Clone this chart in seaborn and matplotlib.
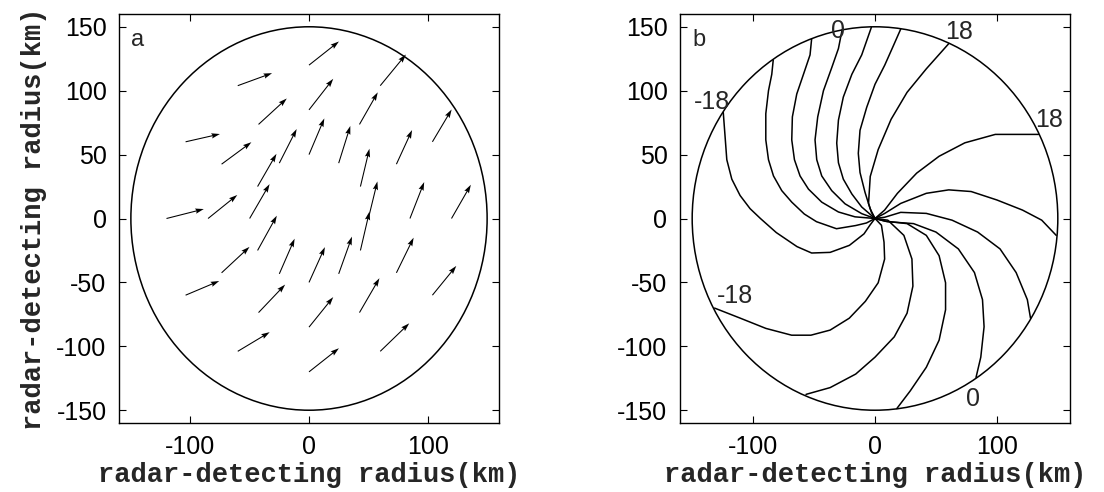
import matplotlib
matplotlib.use("Agg")
import matplotlib.pyplot as plt
from matplotlib.patches import Circle
import seaborn as sns
import numpy as np
import pandas as pd

# ---- panel a: wind vectors on three range rings, every 30 deg of azimuth ----
ring_radius = [50, 85, 120]
azimuth_deg = [0, 30, 60, 90, 120, 150, 180, 210, 240, 270, 300, 330]
u_r50 = [7.6, 7.6, 9.8, 12.9, 14.6, 15.9, 16.8, 16.2, 12.9, 13.4, 11.2, 7.6]
v_r50 = [29.0, 29.6, 29.1, 28.3, 26.7, 25.6, 26.9, 27.2, 27.5, 27.6, 29.1, 30.4]
u_r85 = [12.0, 13.2, 15.4, 20.4, 23.8, 25.1, 24.6, 23.5, 22.4, 20.4, 16.8, 14.5]
v_r85 = [28.5, 26.7, 25.1, 24.3, 20.3, 17.2, 18.4, 20.3, 21.9, 23.5, 26.9, 27.5]
u_r120 = [16.3, 16.2, 21.6, 25.2, 28.9, 28.9, 31.4, 28.3, 26.9, 25.2, 24.4, 20.1]
v_r120 = [26.4, 25.3, 24.4, 18.5, 9.8, 6.1, 7.4, 11.1, 15.0, 18.5, 21.9, 22.9]

# ---- panel b: radial velocity isolines (m/s), traced from the centre out ----
line_m18_a = [(0, 0), (-4, -5), (-9, -12), (-21, -21), (-36.8, -26.5), (-52, -27),
              (-64, -22), (-81, -11), (-94, 0), (-102.5, 7.7), (-110.7, 18),
              (-117.5, 30.8), (-121.6, 46), (-123, 64), (-124.5, 83)]
line_m12_a = [(0, 0), (-7, -3.5), (-15.8, -5.5), (-31.6, -8), (-48, -2.5), (-58, 3.5),
              (-68.3, 12.8), (-76.5, 21.8), (-83.3, 33.3), (-87.4, 46), (-89.6, 61.5),
              (-89.6, 82), (-87.4, 100), (-84.7, 112.8), (-83.5, 124)]
line_m6_a = [(0, 0), (-16.4, 1.3), (-30, 5.1), (-43.7, 12.8), (-54.6, 23), (-61.5, 33.3),
             (-66.1, 46), (-68.3, 61.5), (-67.8, 79.5), (-64.2, 97.4), (-58.7, 112.8),
             (-53.3, 128), (-52, 140.5)]
line_0_a = [(0, 0), (-10.9, 3.8), (-24.6, 11.5), (-35.5, 21.8), (-43.7, 33.3),
            (-47.8, 46), (-49.2, 61.5), (-47, 79.5), (-42.3, 100), (-35.5, 118),
            (-30, 133), (-27, 147.5)]
line_6_a = [(0, 0), (-10.9, 9), (-19, 19.2), (-26, 30.8), (-30, 43.6), (-31.4, 59),
            (-30, 77), (-26, 95), (-19, 112.8), (-10.9, 128), (-3, 149.5)]
line_12_a = [(0, 0), (-4, 7.7), (-8.2, 20.5), (-12.3, 36), (-13.7, 51), (-12.3, 69),
             (-6.8, 87), (0, 105), (8, 120), (15, 135), (21.1, 148.2)]
line_18_a = [(0, 0), (-3, 5), (-5.3, 11.8), (-3.9, 32.9), (2.6, 53.9), (13.2, 77.6),
             (26.3, 98.7), (42.1, 117.1), (60.5, 136.8)]
line_18_b = [(0, 0), (7.9, 6.6), (18.4, 19.7), (34.2, 35.5), (52.6, 48.7),
             (73.7, 59.2), (98.7, 65.8), (134.2, 65.8)]
line_12_b = [(0, 0), (8, 4), (21.1, 11.8), (42.1, 19.7), (60.5, 22.4), (78.9, 21.1),
             (100, 14.5), (121, 6.6), (136.8, -1.3), (148.7, -13.2)]
line_6_b = [(0, 0), (8, 1), (21.1, 4.8), (42.1, 4), (63.2, -1.3), (84.2, -10.6),
            (102.6, -23.8), (115.8, -42.3), (125, -63.5), (127.6, -78)]
line_0_b = [(0, 0), (10, -2.5), (31.6, -4), (50, -10.6), (68.4, -23.8), (81.6, -42.3),
            (88.2, -63.5), (89.5, -84.7), (86.8, -108.5), (82.9, -124.3)]
line_m6_b = [(0, 0), (8, -2), (26.3, -4), (42.1, -13.2), (52.6, -29.1), (57.9, -50.3),
             (57.9, -71.4), (52.6, -95.2), (42.1, -116.4), (28.9, -134.9), (17.9, -148.7)]
line_m12_b = [(0, 0), (10.5, -1.3), (23.7, -13.2), (30.3, -31.7), (31.1, -52.9),
              (26.3, -74.1), (15.8, -92.6), (0, -108.5), (-15.8, -121.7),
              (-36.8, -132.3), (-56.6, -137.6)]
line_m18_b = [(0, 0), (5.3, -5.3), (7.4, -18.5), (7.9, -31.7), (2.6, -50.3),
              (-7.9, -64.8), (-21.1, -78), (-36.8, -87.3), (-52.6, -91.3),
              (-68.4, -91.3), (-89.5, -86), (-110.5, -78), (-131.6, -70.1)]

label_text = ["0", "18", "18", "-18", "-18", "0"]
label_x = [-30, 69, 143, -134, -115, 80.5]
label_y = [147, 146, 77, 91, -61, -141]

# build tables
rows = []
for r, us, vs in zip(ring_radius, [u_r50, u_r85, u_r120], [v_r50, v_r85, v_r120]):
    for az, u, v in zip(azimuth_deg, us, vs):
        rows.append({"x": r * np.cos(np.radians(az)), "y": r * np.sin(np.radians(az)),
                     "u": u, "v": v})
arrows = pd.DataFrame(rows)

lines = {"m18a": line_m18_a, "m12a": line_m12_a, "m6a": line_m6_a, "0a": line_0_a,
         "6a": line_6_a, "12a": line_12_a, "18a": line_18_a, "18b": line_18_b,
         "12b": line_12_b, "6b": line_6_b, "0b": line_0_b, "m6b": line_m6_b,
         "m12b": line_m12_b, "m18b": line_m18_b}
iso = pd.DataFrame([{"curve": k, "x": p[0], "y": p[1]} for k, pts in lines.items() for p in pts])

sns.set_style("ticks")
plt.rcParams["font.family"] = ["Liberation Sans", "DejaVu Sans"]
plt.rcParams["axes.unicode_minus"] = False
plt.rcParams["xtick.direction"] = "in"
plt.rcParams["ytick.direction"] = "in"
plt.rcParams["xtick.top"] = True
plt.rcParams["ytick.right"] = True
plt.rcParams["axes.edgecolor"] = "black"

fig = plt.figure(figsize=(11.04, 4.92), dpi=100)
ax_a = fig.add_axes([119 / 1104, 69 / 492, 380 / 1104, 409 / 492])
ax_b = fig.add_axes([680 / 1104, 69 / 492, 390 / 1104, 409 / 492])

ax_a.quiver(arrows["x"], arrows["y"], arrows["u"], arrows["v"], angles="xy",
            scale_units="xy", scale=1, color="k", width=0.0028, headwidth=5,
            headlength=8, headaxislength=7, zorder=3)

sns.lineplot(data=iso, x="x", y="y", units="curve", estimator=None, sort=False,
             color="k", linewidth=1.1, legend=False, ax=ax_b)
for s, x, y in zip(label_text, label_x, label_y):
    ax_b.text(x, y, s, ha="center", va="center", fontsize=18)

label_font = dict(family="Liberation Mono", weight="bold", size=19.5)
for ax, letter in [(ax_a, "a"), (ax_b, "b")]:
    ax.add_patch(Circle((0, 0), 150, fill=False, color="k", lw=1.1))
    ax.set_xlim(-160, 160)
    ax.set_ylim(-160, 160)
    ax.set_xticks([-100, 0, 100])
    ax.set_yticks([-150, -100, -50, 0, 50, 100, 150])
    ax.tick_params(labelsize=18, length=5, width=0.8, pad=9, colors="black")
    for sp in ax.spines.values():
        sp.set_linewidth(1.0)
    ax.text(-144, 140, letter, ha="center", va="center", fontsize=17)
    ax.set_xlabel("radar-detecting radius(km)", fontdict=label_font, labelpad=2)
    ax.set_ylabel("")
ax_a.set_ylabel("radar-detecting radius(km)", fontdict=label_font, labelpad=7)

fig.savefig("out.png", dpi=100)
